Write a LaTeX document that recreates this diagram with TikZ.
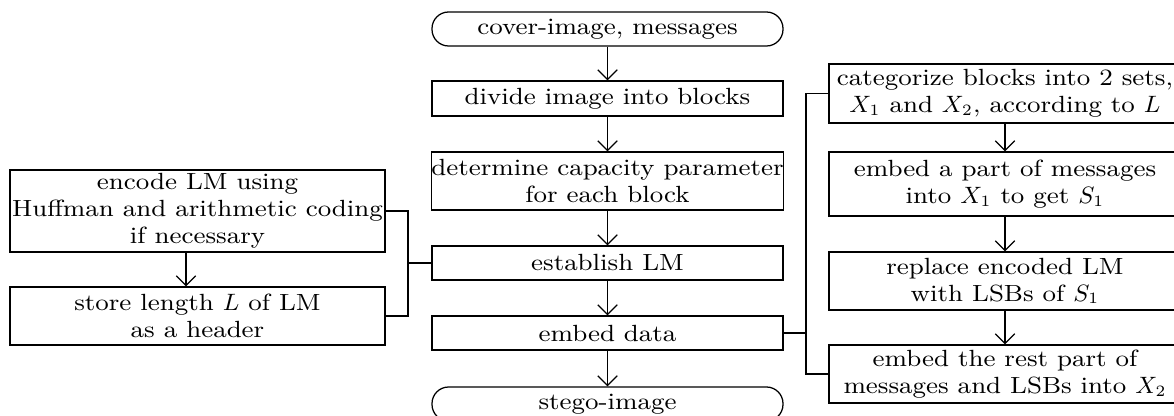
\documentclass[tikz,border=0pt]{standalone}
\usepackage{fontspec}
\setmainfont{Latin Modern Roman}[FakeStretch=1.12]
\usetikzlibrary{arrows.meta}
\def\pxu{0.38pt}
\tikzset{
  every picture/.style={x=0.38pt,y=-0.38pt},
  box/.style={draw,line width=0.48pt,inner sep=0pt,align=center,
    font=\fontsize{8.9}{10.3}\selectfont},
  term/.style={box,rounded corners=6.3pt},
  arr/.style={line width=0.48pt,-{Straight Barb[length=3.7pt,width=7.4pt,line width=0.48pt]}},
  link/.style={line width=0.48pt}
}
\begin{document}
\begin{tikzpicture}
\useasboundingbox (0,0) rectangle (1174,416);
\clip (0,0) rectangle (1174,416);
% main column
\node[term,minimum width=351*\pxu,minimum height=34*\pxu] (cover) at (607.5,29) {cover-image, messages};
\node[box,minimum width=351*\pxu,minimum height=35*\pxu] (divide) at (607.5,98.5) {divide image into blocks};
\node[box,minimum width=351*\pxu,minimum height=58*\pxu] (capacity) at (607.5,181) {determine capacity parameter\\for each block};
\node[box,minimum width=351*\pxu,minimum height=34*\pxu] (establish) at (607.5,263) {establish LM};
\node[box,minimum width=351*\pxu,minimum height=34*\pxu] (embed) at (607.5,333) {embed data};
\node[term,minimum width=351*\pxu,minimum height=34*\pxu] (stego) at (607.5,404) {stego-image};
% left column: building LM
\node[box,minimum width=375*\pxu,minimum height=82*\pxu] (encode) at (197.5,211) {encode LM using\\Huffman and arithmetic coding\\if necessary};
\node[box,minimum width=375*\pxu,minimum height=58*\pxu] (store) at (197.5,316) {store length $L$ of LM\\as a header};
% right column: embedding steps
\node[box,minimum width=352*\pxu,minimum height=59*\pxu] (categorize) at (1005,93.5) {categorize blocks into 2 sets,\\$X_1$ and $X_2$, according to $L$};
\node[box,minimum width=352*\pxu,minimum height=64*\pxu] (part) at (1005,184) {embed a part of messages\\into $X_1$ to get $S_1$};
\node[box,minimum width=352*\pxu,minimum height=58*\pxu] (replace) at (1005,281) {replace encoded LM\\with LSBs of $S_1$};
\node[box,minimum width=352*\pxu,minimum height=58*\pxu] (rest) at (1005,374) {embed the rest part of\\messages and LSBs into $X_2$};
% flow arrows
\draw[arr] (cover) -- (divide);
\draw[arr] (divide) -- (capacity);
\draw[arr] (capacity) -- (establish);
\draw[arr] (establish) -- (embed);
\draw[arr] (embed) -- (stego);
\coordinate (ax) at (186,0);
\draw[arr] (ax |- encode.south) -- (ax |- store.north);
\draw[arr] (categorize) -- (part);
\draw[arr] (part) -- (replace);
\draw[arr] (replace) -- (rest);
% brackets
\coordinate (lb) at (408,0);
\draw[link] (encode.east) -- (encode.east -| lb) -- (store.east -| lb) -- (store.east);
\draw[link] (establish.west) -- (establish.west -| lb);
\coordinate (rb) at (806,0);
\draw[link] (categorize.west) -- (categorize.west -| rb) -- (rest.west -| rb) -- (rest.west);
\draw[link] (embed.east) -- (embed.east -| rb);
\end{tikzpicture}
\end{document}
